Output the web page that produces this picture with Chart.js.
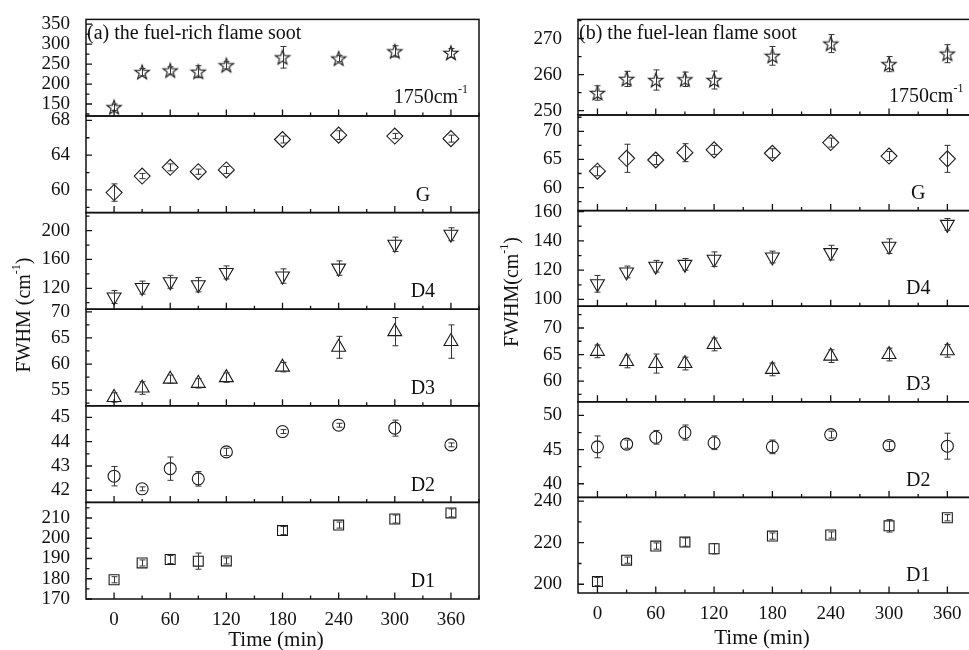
<!DOCTYPE html>
<html>
<head>
<meta charset="utf-8">
<title>FWHM vs time</title>
<script src="https://cdn.jsdelivr.net/npm/chart.js@4.4.1/dist/chart.umd.min.js"></script>
<style>
  html, body { margin: 0; padding: 0; background: #fff; width: 969px; height: 650px; overflow: hidden; }
  canvas { position: absolute; top: 0; }
  #richChart { left: 0; }
  #leanChart { left: 490px; }
</style>
</head>
<body>
<canvas id="richChart" width="490" height="650"></canvas>
<canvas id="leanChart" width="500" height="650"></canvas>
<script>
const times = [0, 30, 60, 90, 120, 180, 240, 300, 360];
const timeTicks = [0, 60, 120, 180, 240, 300, 360];
const bandNames = ['1750cm', 'G', 'D4', 'D3', 'D2', 'D1'];

// (a) fuel-rich flame soot
const rich1750 = [142, 230, 234, 231, 247, 267, 264, 282, 278];
const rich1750Err = [8, 9, 9, 15, 9, 27, 8, 14, 11];
const richG = [59.7, 61.6, 62.6, 62.1, 62.3, 65.8, 66.3, 66.2, 65.9];
const richGErr = [1.0, 0.3, 0.4, 0.3, 0.4, 0.4, 0.5, 0.3, 0.4];
const richD4 = [108, 121, 129, 125, 142, 137, 148, 181, 195];
const richD4Err = [9, 9, 9, 10, 9, 10, 10, 10, 9];
const richD3 = [53.6, 55.4, 57.1, 56.3, 57.4, 59.4, 63.2, 66.2, 64.3];
const richD3Err = [0.9, 1.2, 0.8, 0.9, 0.9, 0.9, 2.1, 2.7, 3.2];
const richD2 = [42.58, 42.06, 42.89, 42.47, 43.58, 44.42, 44.68, 44.56, 43.87];
const richD2Err = [0.4, 0.08, 0.48, 0.3, 0.15, 0.08, 0.08, 0.33, 0.08];
const richD1 = [179.5, 187.8, 189.5, 188.7, 188.8, 203.8, 206.5, 209.5, 212.5];
const richD1Err = [1.5, 1.5, 2, 4, 1.5, 2, 1.5, 2, 2];

// (b) fuel-lean flame soot
const lean1750 = [254.9, 258.8, 258.5, 258.7, 258.5, 265.2, 268.6, 262.9, 265.8];
const lean1750Err = [2, 2.1, 2.8, 2, 2.5, 2.6, 2.5, 2.1, 2.5];
const leanG = [62.9, 65.2, 64.9, 66.2, 66.7, 66.1, 68.0, 65.6, 65.1];
const leanGErr = [0.8, 2.5, 0.8, 1.6, 0.8, 0.8, 0.8, 0.8, 2.4];
const leanD4 = [110.7, 118.8, 122.7, 124, 127.5, 129, 132, 136.4, 151.3];
const leanD4Err = [5.7, 4, 4, 4, 5, 4, 5, 5, 4];
const leanD3 = [65.6, 63.7, 63.3, 63.3, 66.9, 62.2, 64.7, 65, 65.7];
const leanD3Err = [1.2, 1.2, 1.8, 1.2, 1.2, 1.2, 1.2, 1.2, 1.2];
const leanD2 = [45.4, 45.8, 46.8, 47.5, 46, 45.4, 47.2, 45.6, 45.5];
const leanD2Err = [1.6, 0.6, 1.0, 1.1, 1.0, 1.0, 0.5, 0.6, 1.9];
const leanD1 = [201.3, 211.6, 218.4, 220.3, 217.1, 223.2, 223.7, 228.1, 232];
const leanD1Err = [2, 1.5, 1.5, 2, 2.5, 1.5, 1.5, 3, 1.5];

const serif = '"Liberation Serif", "DejaVu Serif", serif';
const ink = '#111';

// hollow five-point star marker
function makeStar() {
    const c = document.createElement('canvas');
    c.width = 18; c.height = 18;
    const g = c.getContext('2d');
    g.beginPath();
    for (let i = 0; i < 10; i++) {
        const r = i % 2 ? 3.1 : 7.6;
        const a = -Math.PI / 2 + i * Math.PI / 5;
        const px = 9 + r * Math.cos(a), py = 9.6 + r * Math.sin(a);
        if (i) g.lineTo(px, py); else g.moveTo(px, py);
    }
    g.closePath();
    g.strokeStyle = '#1a1a1a';
    g.lineWidth = 1.1;
    g.stroke();
    return c;
}

const markers = [makeStar(), 'rectRot', 'triangle', 'triangle', 'circle', 'rect'];
const markerRadius = [8, 8, 8, 8, 6, 7];
const markerRotation = [0, 0, 180, 0, 0, 0];

// text with a raised "-1"
function drawSup(ctx, parts, x, y, align) {
    const big = '20px ' + serif, small = '12px ' + serif;
    let w = 0;
    parts.forEach(p => { ctx.font = p[1] ? small : big; w += ctx.measureText(p[0]).width; });
    let cx = align === 'center' ? x - w / 2 : x;
    ctx.textAlign = 'left';
    ctx.textBaseline = 'middle';
    parts.forEach(p => {
        ctx.font = p[1] ? small : big;
        ctx.fillText(p[0], cx, p[1] ? y - 8 : y);
        cx += ctx.measureText(p[0]).width;
    });
}

function makeDeco(o) {
    return {
        id: 'deco',
        afterDatasetsDraw(chart) {
            const ctx = chart.ctx;
            const xs = chart.scales.x;
            const area = chart.chartArea;
            ctx.save();

            // error bars
            ctx.strokeStyle = '#333';
            ctx.lineWidth = 1;
            chart.data.datasets.forEach(ds => {
                const ys = chart.scales[ds.yAxisID];
                ds.data.forEach((p, i) => {
                    const px = Math.round(xs.getPixelForValue(p.x)) + 0.5;
                    const y1 = ys.getPixelForValue(p.y - ds.err[i]);
                    const y2 = ys.getPixelForValue(p.y + ds.err[i]);
                    ctx.beginPath();
                    ctx.moveTo(px, y1); ctx.lineTo(px, y2);
                    ctx.moveTo(px - 3, y1); ctx.lineTo(px + 3, y1);
                    ctx.moveTo(px - 3, y2); ctx.lineTo(px + 3, y2);
                    ctx.stroke();
                });
            });

            // panel frames, inward ticks and labels
            o.axes.forEach((a, k) => {
                const ys = chart.scales['y' + k];
                ctx.strokeStyle = ink;
                ctx.lineWidth = 1.5;
                ctx.strokeRect(area.left, ys.top, area.right - area.left, ys.bottom - ys.top);
                ctx.lineWidth = 1.3;
                ctx.beginPath();
                for (let v = Math.ceil(a.min / a.minor) * a.minor; v <= a.max; v += a.minor) {
                    const py = ys.getPixelForValue(v);
                    const major = Math.abs(v / a.step - Math.round(v / a.step)) < 1e-6;
                    ctx.moveTo(area.left, py);
                    ctx.lineTo(area.left + (major ? 6 : 3.5), py);
                }
                for (let t = 0; t <= o.xMax; t += 30) {
                    const px = xs.getPixelForValue(t);
                    ctx.moveTo(px, ys.bottom);
                    ctx.lineTo(px, ys.bottom - (t % 60 === 0 ? 6.5 : 3.5));
                }
                ctx.stroke();

                ctx.fillStyle = ink;
                const lx = xs.getPixelForValue(330);
                if (k === 0) {
                    drawSup(ctx, [[bandNames[0], false], ['-1', true]], lx + 8, ys.bottom - 18, 'center');
                } else {
                    drawSup(ctx, [[bandNames[k], false]], lx, ys.bottom - 17, 'center');
                }
            });

            // panel title
            ctx.fillStyle = ink;
            ctx.font = '20px ' + serif;
            ctx.textAlign = 'left';
            ctx.textBaseline = 'middle';
            ctx.fillText(o.title, area.left + 1, chart.scales.y0.top + 14);

            // axis titles
            ctx.save();
            ctx.translate(o.yTitleX, o.yTitleY);
            ctx.rotate(-Math.PI / 2);
            drawSup(ctx, [[o.yTitle, false], ['-1', true], [')', false]], 0, 0, 'center');
            ctx.restore();
            ctx.font = '21px ' + serif;
            ctx.textAlign = 'center';
            ctx.fillText('Time (min)', area.left + o.xTitleOffset, o.xTitleY);

            ctx.restore();
        }
    };
}

function buildChart(id, o) {
    const tickFont = { family: serif, size: 19 };
    const scales = {
        x: {
            type: 'linear', min: o.xMin, max: o.xMax,
            ticks: { padding: 2, color: ink, font: tickFont, maxRotation: 0, autoSkip: false },
            afterBuildTicks(s) { s.ticks = timeTicks.map(v => ({ value: v })); },
            grid: { display: false }, border: { display: false },
            afterFit(s) { s.height = o.xHeight; }
        }
    };
    // stacked axes are laid out bottom-up, so add the lowest panel first
    for (let k = o.axes.length - 1; k >= 0; k--) {
        const a = o.axes[k];
        scales['y' + k] = {
            type: 'linear', position: 'left', stack: 'panels', stackWeight: 1,
            min: a.min, max: a.max,
            ticks: { stepSize: a.step, includeBounds: false, padding: 8, color: ink, font: tickFont, autoSkip: false },
            grid: { display: false }, border: { display: false },
            afterFit(s) { s.width = o.yWidth; }
        };
    }
    const datasets = o.series.map((vals, k) => ({
        data: times.map((t, i) => ({ x: t, y: vals[i] })),
        err: o.errs[k],
        yAxisID: 'y' + k,
        pointStyle: markers[k],
        pointRadius: markerRadius[k],
        pointRotation: markerRotation[k],
        pointBorderColor: '#1a1a1a',
        pointBackgroundColor: 'rgba(0,0,0,0)',
        pointBorderWidth: 1.1,
        showLine: false
    }));
    return new Chart(document.getElementById(id), {
        type: 'scatter',
        data: { datasets },
        options: {
            responsive: false,
            animation: false,
            events: [],
            layout: { padding: o.padding },
            plugins: { legend: { display: false }, tooltip: { enabled: false } },
            scales
        },
        plugins: [makeDeco(o)]
    });
}

buildChart('richChart', {
    title: '(a) the fuel-rich flame soot',
    yTitle: 'FWHM (cm', yTitleX: 25, yTitleY: 315,
    xTitleOffset: 190, xTitleY: 640,
    xMin: -30, xMax: 390, xHeight: 51, yWidth: 86,
    padding: { top: 17, right: 11, left: 0, bottom: 0 },
    series: [rich1750, richG, richD4, richD3, richD2, richD1],
    errs: [rich1750Err, richGErr, richD4Err, richD3Err, richD2Err, richD1Err],
    axes: [
        { min: 120, max: 362, step: 50, minor: 25 },
        { min: 57.4, max: 68.5, step: 4, minor: 2 },
        { min: 91, max: 225, step: 40, minor: 20 },
        { min: 52, max: 70.5, step: 5, minor: 2.5 },
        { min: 41.5, max: 45.48, step: 1, minor: 0.5 },
        { min: 170, max: 217.7, step: 10, minor: 5 }
    ]
});

buildChart('leanChart', {
    title: '(b) the fuel-lean flame soot',
    yTitle: 'FWHM(cm', yTitleX: 23, yTitleY: 292,
    xTitleOffset: 184, xTitleY: 638,
    xMin: -20, xMax: 394.5, xHeight: 57, yWidth: 88,
    padding: { top: 15, right: 5, left: 0, bottom: 0 },
    series: [lean1750, leanG, leanD4, leanD3, leanD2, leanD1],
    errs: [lean1750Err, leanGErr, leanD4Err, leanD3Err, leanD2Err, leanD1Err],
    axes: [
        { min: 248.8, max: 275.3, step: 10, minor: 5 },
        { min: 55.9, max: 72.9, step: 5, minor: 2.5 },
        { min: 95.4, max: 160.7, step: 20, minor: 10 },
        { min: 56.1, max: 74.1, step: 5, minor: 2.5 },
        { min: 38, max: 52, step: 5, minor: 2.5 },
        { min: 195.8, max: 241.8, step: 20, minor: 10 }
    ]
});
</script>
</body>
</html>
